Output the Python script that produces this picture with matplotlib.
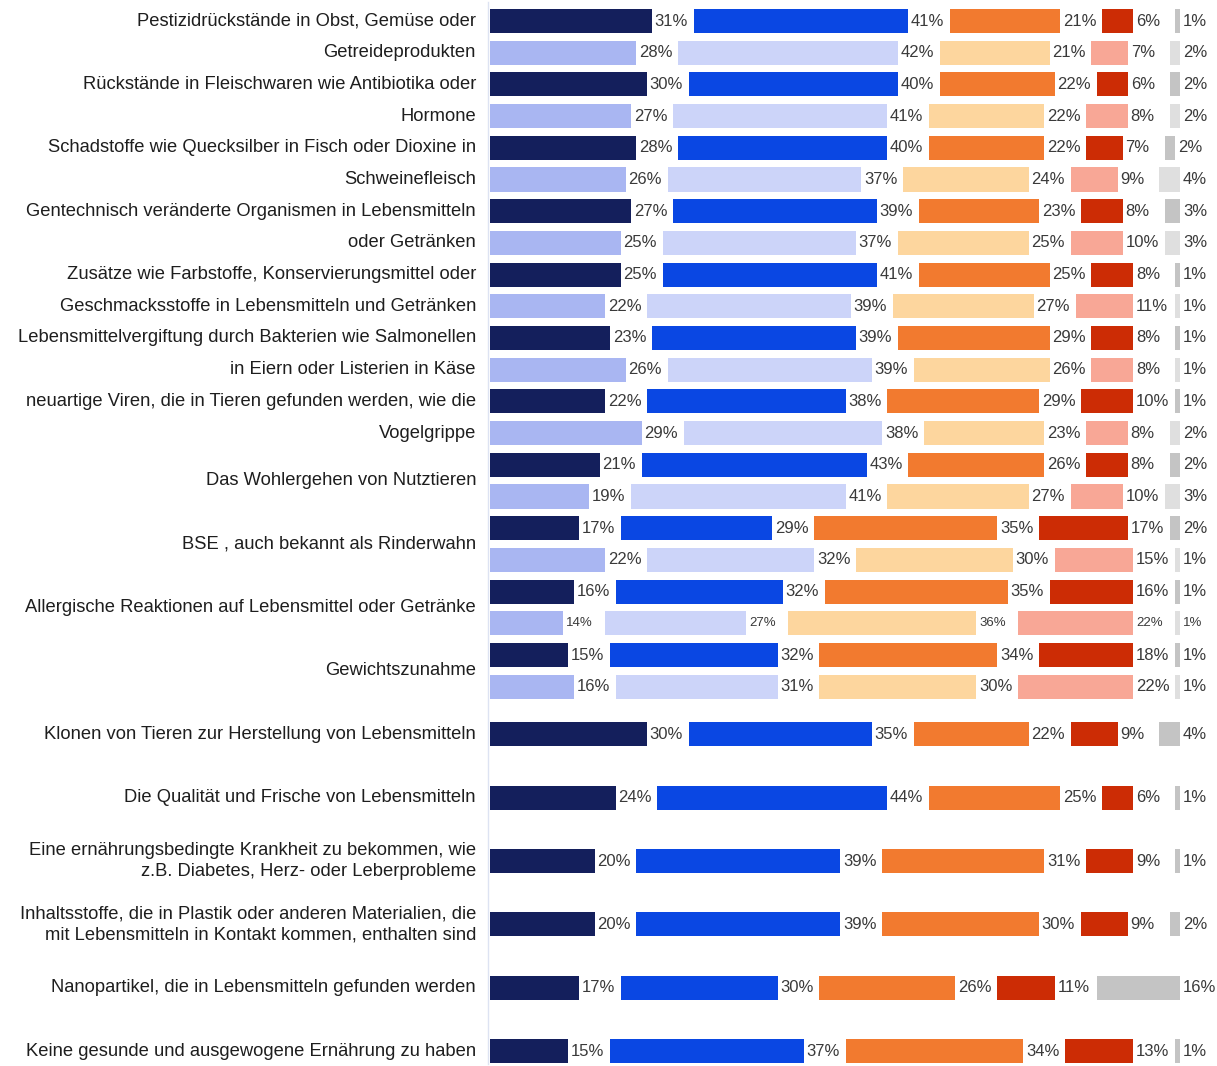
import matplotlib
matplotlib.use("Agg")
import matplotlib.pyplot as plt

# Survey topics shown as pairs of bars (two survey waves)
paired_topics = [
    ["Pestizidrückstände in Obst, Gemüse oder", "Getreideprodukten"],
    ["Rückstände in Fleischwaren wie Antibiotika oder", "Hormone"],
    ["Schadstoffe wie Quecksilber in Fisch oder Dioxine in", "Schweinefleisch"],
    ["Gentechnisch veränderte Organismen in Lebensmitteln", "oder Getränken"],
    ["Zusätze wie Farbstoffe, Konservierungsmittel oder",
     "Geschmacksstoffe in Lebensmitteln und Getränken"],
    ["Lebensmittelvergiftung durch Bakterien wie Salmonellen",
     "in Eiern oder Listerien in Käse"],
    ["neuartige Viren, die in Tieren gefunden werden, wie die", "Vogelgrippe"],
    ["Das Wohlergehen von Nutztieren"],
    ["BSE , auch bekannt als Rinderwahn"],
    ["Allergische Reaktionen auf Lebensmittel oder Getränke"],
    ["Gewichtszunahme"],
]
paired_first = [
    [31, 41, 21, 6, 1],
    [30, 40, 22, 6, 2],
    [28, 40, 22, 7, 2],
    [27, 39, 23, 8, 3],
    [25, 41, 25, 8, 1],
    [23, 39, 29, 8, 1],
    [22, 38, 29, 10, 1],
    [21, 43, 26, 8, 2],
    [17, 29, 35, 17, 2],
    [16, 32, 35, 16, 1],
    [15, 32, 34, 18, 1],
]
paired_second = [
    [28, 42, 21, 7, 2],
    [27, 41, 22, 8, 2],
    [26, 37, 24, 9, 4],
    [25, 37, 25, 10, 3],
    [22, 39, 27, 11, 1],
    [26, 39, 26, 8, 1],
    [29, 38, 23, 8, 2],
    [19, 41, 27, 10, 3],
    [22, 32, 30, 15, 1],
    [14, 27, 36, 22, 1],
    [16, 31, 30, 22, 1],
]

# Topics with a single bar
single_topics = [
    "Klonen von Tieren zur Herstellung von Lebensmitteln",
    "Die Qualität und Frische von Lebensmitteln",
    "Eine ernährungsbedingte Krankheit zu bekommen, wie\nz.B. Diabetes, Herz- oder Leberprobleme",
    "Inhaltsstoffe, die in Plastik oder anderen Materialien, die\nmit Lebensmitteln in Kontakt kommen, enthalten sind",
    "Nanopartikel, die in Lebensmitteln gefunden werden",
    "Keine gesunde und ausgewogene Ernährung zu haben",
]
single_values = [
    [30, 35, 22, 9, 4],
    [24, 44, 25, 6, 1],
    [20, 39, 31, 9, 1],
    [20, 39, 30, 9, 2],
    [17, 30, 26, 11, 16],
    [15, 37, 34, 13, 1],
]

dark_colors = ["#141f5c", "#0a47e3", "#f27a2f", "#cc2c05", "#c4c4c4"]
light_colors = ["#a9b6f2", "#ccd4f9", "#fdd69e", "#f8a796", "#dfdfdf"]

GAP = 8.0          # space between segments, holds the value label
BAR_H = 0.76
PX_PER_UNIT = 5.23

fig = plt.figure(figsize=(12.17, 10.66), dpi=100)
left_px = 490
ax = fig.add_axes([left_px / 1217, 0, 1 - left_px / 1217, 1])
ax.set_xlim(0, (1217 - left_px) / PX_PER_UNIT)
ax.set_ylim((1066 - 21) / 31.7, -21 / 31.7)
ax.axis("off")

num_font = dict(family=["Liberation Sans Narrow", "Liberation Sans", "DejaVu Sans"],
                color="#3a3a3a")
cat_font = dict(family=["Liberation Sans", "DejaVu Sans"], color="#1e1e1e", fontsize=13.2)


def draw_row(y, values, colors, label_size=12):
    start = 0.0
    for v, c in zip(values, colors):
        ax.barh(y, v, left=start, height=BAR_H, color=c, edgecolor="none")
        ax.text(start + v + 0.5, y, f"{v}%", ha="left", va="center",
                fontsize=label_size, **num_font)
        start += v + GAP


label_x = -14 / PX_PER_UNIT

for i, (names, a, b) in enumerate(zip(paired_topics, paired_first, paired_second)):
    ya, yb = 2 * i, 2 * i + 1
    draw_row(ya, a, dark_colors)
    draw_row(yb, b, light_colors, label_size=9.5 if i == 9 else 12)
    if len(names) == 2:
        ax.text(label_x, ya, names[0], ha="right", va="center", clip_on=False, **cat_font)
        ax.text(label_x, yb, names[1], ha="right", va="center", clip_on=False, **cat_font)
    else:
        ax.text(label_x, (ya + yb) / 2, names[0], ha="right", va="center",
                clip_on=False, **cat_font)

for k, (name, vals) in enumerate(zip(single_topics, single_values)):
    y = 22.5 + 2 * k
    draw_row(y, vals, dark_colors)
    ax.text(label_x, y, name, ha="right", va="center", multialignment="right",
            linespacing=1.3, clip_on=False, **cat_font)

# faint axis line at the bars' base
ax.plot([-0.4, -0.4], [-0.6, 32.9], color="#dde3f2", lw=1.0, clip_on=False)

fig.savefig("out.png", dpi=100, facecolor="white")
